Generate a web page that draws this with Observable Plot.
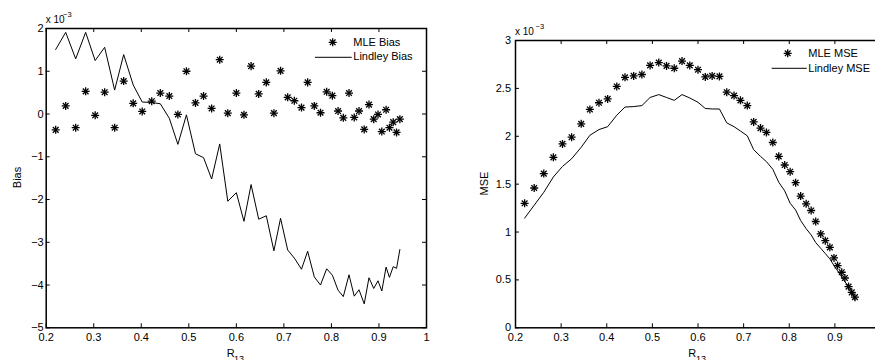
<!DOCTYPE html>
<html><head><meta charset="utf-8">
<script src="https://cdn.jsdelivr.net/npm/d3@7"></script>
<script src="https://cdn.jsdelivr.net/npm/@observablehq/plot@0.6"></script>
<style>
body{margin:0;background:#fff;font-family:"Liberation Sans",Arial,sans-serif;}
#wrap{position:relative;width:875px;height:360px;overflow:hidden;background:#fff;}
#wrap > svg{position:absolute;top:0;}
#ann{left:0;pointer-events:none;}
#ann text{font-family:"Liberation Sans",Arial,sans-serif;fill:#000;}
</style></head><body><div id="wrap"></div>
<script>
// R13 values (shared x for both panels)
const r13 = [0.220, 0.241, 0.262, 0.283, 0.303, 0.323, 0.344, 0.363, 0.383, 0.402,
  0.422, 0.440, 0.459, 0.477, 0.495, 0.514, 0.531, 0.548, 0.565, 0.582,
  0.600, 0.616, 0.631, 0.647, 0.663, 0.679, 0.693, 0.708, 0.722, 0.737,
  0.750, 0.764, 0.777, 0.790, 0.802, 0.814, 0.825, 0.837, 0.848, 0.858,
  0.869, 0.879, 0.889, 0.898, 0.906, 0.915, 0.922, 0.930, 0.937, 0.944];
// Bias (x 10^-3)
const mleBias = [-0.37, 0.19, -0.32, 0.53, -0.03, 0.51, -0.32, 0.77, 0.25, 0.06,
  0.30, 0.49, 0.42, -0.01, 1.00, 0.26, 0.42, 0.13, 1.27, 0.02,
  0.49, -0.02, 1.12, 0.47, 0.74, 0.02, 1.01, 0.39, 0.31, 0.15,
  0.74, 0.19, 0.03, 0.52, 0.43, 0.07, -0.09, 0.49, -0.08, 0.07,
  -0.36, 0.22, -0.12, -0.01, -0.41, 0.10, -0.32, -0.19, -0.43, -0.12];
const lindleyBias = [1.51, 1.91, 1.29, 1.91, 1.25, 1.56, 0.56, 1.39, 0.68, 0.28,
  0.27, 0.24, -0.10, -0.71, -0.02, -0.93, -1.02, -1.52, -0.70, -2.04,
  -1.84, -2.51, -1.65, -2.46, -2.38, -3.20, -2.44, -3.18, -3.37, -3.63,
  -3.21, -3.81, -4.00, -3.62, -3.77, -4.12, -4.27, -3.76, -4.26, -4.11,
  -4.44, -3.83, -4.08, -3.90, -4.14, -3.58, -3.82, -3.57, -3.61, -3.17];
// MSE (x 10^-3)
const mleMSE = [1.30, 1.46, 1.61, 1.78, 1.92, 1.99, 2.13, 2.28, 2.35, 2.39,
  2.52, 2.615, 2.63, 2.645, 2.74, 2.77, 2.735, 2.71, 2.785, 2.74,
  2.695, 2.62, 2.63, 2.625, 2.46, 2.425, 2.375, 2.32, 2.15, 2.085,
  2.04, 1.935, 1.79, 1.70, 1.63, 1.515, 1.375, 1.295, 1.225, 1.11,
  0.98, 0.91, 0.84, 0.73, 0.65, 0.58, 0.52, 0.43, 0.37, 0.32];
const lindleyMSE = [1.145, 1.28, 1.415, 1.575, 1.685, 1.765, 1.885, 2.01, 2.07, 2.10,
  2.22, 2.305, 2.31, 2.32, 2.405, 2.435, 2.405, 2.375, 2.435, 2.40,
  2.355, 2.29, 2.285, 2.285, 2.14, 2.10, 2.055, 2.005, 1.86, 1.79,
  1.735, 1.655, 1.52, 1.43, 1.30, 1.23, 1.12, 1.035, 0.97, 0.89,
  0.83, 0.775, 0.72, 0.65, 0.595, 0.53, 0.48, 0.435, 0.385, 0.29];
// Ticks
const xTicks = [0.2, 0.3, 0.4, 0.5, 0.6, 0.7, 0.8, 0.9, 1];
const biasTicks = [-5, -4, -3, -2, -1, 0, 1, 2];
const mseTicks = [0, 0.5, 1, 1.5, 2, 2.5, 3];
const labels = {mle1: "MLE Bias", lin1: "Lindley Bias", mle2: "MLE MSE", lin2: "Lindley MSE", y1: "Bias", y2: "MSE", x: "R", xSub: "13"};

const fmt = d => (d < 0 ? "\u2212" : "") + Math.abs(d);

function panel({yDomain, yTicks, xLabelTicks, mle, lindley, width, height, mL, mR, mT, mB, yPad}) {
  const data = r13.map((x, i) => ({x, mle: mle[i], lin: lindley[i]}));
  const ih = height - mT - mB, iw = width - mL - mR;
  return Plot.plot({
    width, height, marginLeft: mL, marginRight: mR, marginTop: mT, marginBottom: mB,
    style: {fontFamily: "Liberation Sans, Arial, sans-serif", fontSize: "11px", color: "black", background: "transparent", overflow: "visible"},
    x: {domain: [0.2, 1]},
    y: {domain: yDomain},
    marks: [
      Plot.axisX(xLabelTicks, {tickSize: 0, tickPadding: 5, tickFormat: fmt, fontSize: 11, label: null}),
      Plot.axisY(yTicks, {tickSize: 0, tickPadding: yPad, tickFormat: fmt, fontSize: 11, label: null}),
      Plot.tickX(xTicks, {x: d => d, insetTop: ih - 4, stroke: "black"}),
      Plot.tickX(xTicks, {x: d => d, insetBottom: ih - 4, stroke: "black"}),
      Plot.tickY(yTicks, {y: d => d, insetRight: iw - 4, stroke: "black"}),
      Plot.tickY(yTicks, {y: d => d, insetLeft: iw - 4, stroke: "black"}),
      Plot.line(data, {x: "x", y: "lin", stroke: "black", strokeWidth: 1}),
      Plot.dot(data, {x: "x", y: "mle", symbol: "plus", r: 2.7, stroke: "black", strokeWidth: 1.3}),
      Plot.dot(data, {x: "x", y: "mle", symbol: "times", r: 2.7, stroke: "black", strokeWidth: 1.3}),
      Plot.frame({stroke: "black", strokeWidth: 1.5})
    ]
  });
}

const wrap = document.getElementById("wrap");
const left = panel({yDomain: [-5, 2], yTicks: biasTicks, xLabelTicks: xTicks, mle: mleBias, lindley: lindleyBias,
  width: 440, height: 360, mL: 45.7, mR: 14, mT: 28, mB: 32.7, yPad: 2.5});
left.style.left = "0px";
wrap.appendChild(left);
// the right panel runs past the picture's right edge, so its "1" label is not shown
const right = panel({yDomain: [0, 3], yTicks: mseTicks, xLabelTicks: xTicks.filter(d => d < 1), mle: mleMSE, lindley: lindleyMSE,
  width: 440, height: 360, mL: 75, mR: 0, mT: 40, mB: 32.7, yPad: 4.5});
right.style.left = "440px";
wrap.appendChild(right);

// annotations: axis titles, multipliers, legends
const star = (cx, cy) => `<path transform="translate(${cx},${cy})" d="M-4,0H4M0,-4V4M-2.83,-2.83L2.83,2.83M-2.83,2.83L2.83,-2.83" stroke="#000" stroke-width="1.3" fill="none"/>`;
const ann = `<svg id="ann" width="875" height="360" xmlns="http://www.w3.org/2000/svg">
  <text x="45.7" y="22.7" font-size="10">x 10</text>
  <text x="63" y="17" font-size="7.5">\u22123</text>
  <text x="515" y="35" font-size="10">x 10</text>
  <text x="535.5" y="29" font-size="7.5">\u22123</text>
  <text transform="translate(20.7,177.5) rotate(-90)" text-anchor="middle" font-size="11">${labels.y1}</text>
  <text transform="translate(488.3,183.5) rotate(-90)" text-anchor="middle" font-size="11">${labels.y2}</text>
  <text x="226.7" y="356.7" font-size="11">${labels.x}</text>
  <text x="234" y="362" font-size="9">${labels.xSub}</text>
  <text x="688.3" y="356.7" font-size="11">${labels.x}</text>
  <text x="696" y="362" font-size="9">${labels.xSub}</text>
  ${star(332.7, 42.3)}
  <text x="353.3" y="45.7" font-size="11">${labels.mle1}</text>
  <line x1="315" x2="351.7" y1="57.3" y2="57.3" stroke="#000" stroke-width="1"/>
  <text x="353.3" y="59.5" font-size="11">${labels.lin1}</text>
  ${star(787.7, 53.3)}
  <text x="808.3" y="57.3" font-size="11">${labels.mle2}</text>
  <line x1="771.7" x2="806.7" y1="68.3" y2="68.3" stroke="#000" stroke-width="1"/>
  <text x="808.3" y="72.3" font-size="11">${labels.lin2}</text>
</svg>`;
wrap.insertAdjacentHTML("beforeend", ann);
</script>
</body></html>
